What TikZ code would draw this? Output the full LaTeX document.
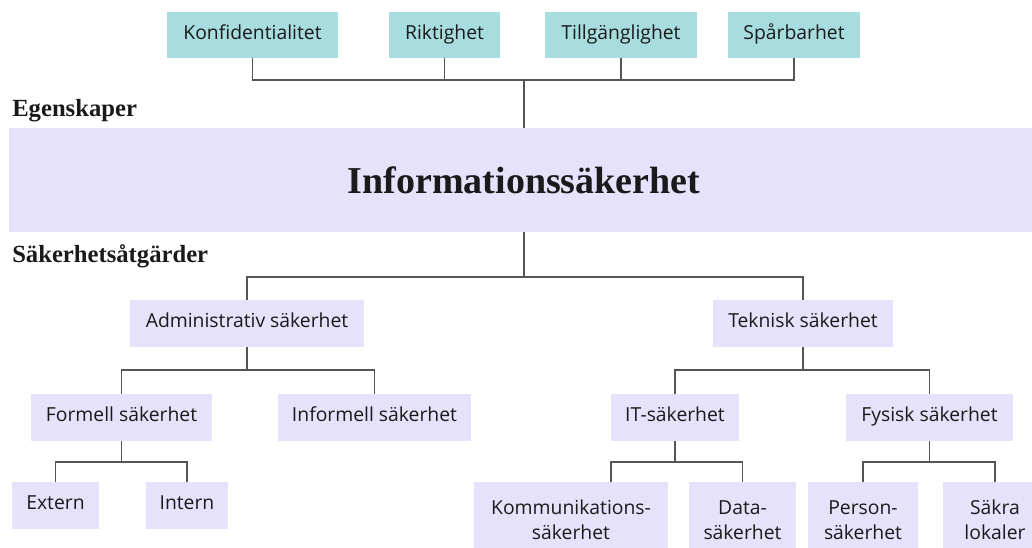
\documentclass[tikz,border=0pt]{standalone}
\usepackage{fontspec}
\usepackage{xcolor}
\setmainfont{Open Sans}
\newfontfamily\headfont{Liberation Serif}
\definecolor{tealbox}{HTML}{A8DDE0}
\definecolor{lilacbox}{HTML}{E7E2FB}
\definecolor{linegray}{HTML}{555555}
\definecolor{inkblack}{HTML}{1A1A1A}

\begin{document}
\begin{tikzpicture}[x=0.75pt, y=-0.75pt,
  boxw/.style={minimum width=#1*0.75pt},
  boxh/.style={minimum height=#1*0.75pt},
  box/.style={inner sep=0pt, text=inkblack, font=\fontsize{14.5}{18.75}\selectfont},
  single/.style={box, text height=0.72em, text depth=0.1em, boxh=47},
  double/.style={box, align=center, boxh=76},
  prop/.style={single, fill=tealbox, boxh=46},
  part/.style={single, fill=lilacbox},
  leaf/.style={double, fill=lilacbox},
  heading/.style={anchor=base west, inner sep=0pt, text=inkblack,
    font=\headfont\bfseries\fontsize{18.5}{21}\selectfont},
  conn/.style={draw=linegray, line width=1.1pt}]

  % Frame of the picture
  \useasboundingbox (0,0) rectangle (1032,547);
  \clip (0,0) rectangle (1032,547);

  % Properties
  \node[prop, boxw=171] (konf)  at (252.5,35) {Konfidentialitet};
  \node[prop, boxw=111] (rikt)  at (444.5,35) {Riktighet};
  \node[prop, boxw=152] (tillg) at (621,35)   {Tillgänglighet};
  \node[prop, boxw=132] (spar)  at (794,35)   {Spårbarhet};

  \node[heading] (egen) at (12,116) {Egenskaper};

  % Main box
  \node[fill=lilacbox, inner sep=0pt, boxw=1030, boxh=104, text=inkblack,
    font=\headfont\bfseries\fontsize{28.5}{34}\selectfont] (info) at (524,180)
    {Informationssäkerhet};

  \node[heading] (atgard) at (12,262) {Säkerhetsåtgärder};

  % Measures
  \node[part, boxw=234] (admin)     at (247,323.5)   {Administrativ säkerhet};
  \node[part, boxw=180] (tekn)      at (803,323.5)   {Teknisk säkerhet};
  \node[part, boxw=181] (formell)   at (121.5,417.5) {Formell säkerhet};
  \node[part, boxw=193] (informell) at (374.5,417.5) {Informell säkerhet};
  \node[part, boxw=128] (it)        at (675,417.5)   {IT-säkerhet};
  \node[part, boxw=167] (fysisk)    at (929.5,417.5) {Fysisk säkerhet};
  \node[part, boxw=87]  (extern)    at (55.5,505.5)  {Extern};
  \node[part, boxw=82]  (intern)    at (187,505.5)   {Intern};
  \node[leaf, boxw=194] (komm)      at (571,520)     {Kommunikations-\\säkerhet};
  \node[leaf, boxw=107] (data)      at (742.5,520)   {Data-\\säkerhet};
  \node[leaf, boxw=110] (person)    at (863,520)     {Person-\\säkerhet};
  \node[leaf, boxw=104] (sakra)     at (995,520)     {Säkra\\lokaler};

  % Bus points
  \coordinate (topbus)    at (524,80);
  \coordinate (midbus)    at (524,277);
  \coordinate (adminbus)  at (247,370);
  \coordinate (teknbus)   at (803,370);
  \coordinate (formbus)   at (121.5,462);
  \coordinate (itbus)     at (675,462);
  \coordinate (fysbus)    at (929.5,462);
  \coordinate (kommtop)   at (611,482);

  % Connectors
  \foreach \n in {konf,rikt,tillg,spar}
    \draw[conn] (\n.south) |- (topbus);
  \draw[conn] (topbus) -- (info.north);

  \draw[conn] (info.south) -- (midbus);
  \foreach \n in {admin,tekn}
    \draw[conn] (\n.north) |- (midbus);

  \draw[conn] (admin.south) -- (adminbus);
  \foreach \n in {formell,informell}
    \draw[conn] (\n.north) |- (adminbus);

  \draw[conn] (tekn.south) -- (teknbus);
  \foreach \n in {it,fysisk}
    \draw[conn] (\n.north) |- (teknbus);

  \draw[conn] (formell.south) -- (formbus);
  \foreach \n in {extern,intern}
    \draw[conn] (\n.north) |- (formbus);

  \draw[conn] (it.south) -- (itbus);
  \draw[conn] (kommtop) |- (itbus);
  \draw[conn] (data.north) |- (itbus);

  \draw[conn] (fysisk.south) -- (fysbus);
  \foreach \n in {person,sakra}
    \draw[conn] (\n.north) |- (fysbus);
\end{tikzpicture}
\end{document}
